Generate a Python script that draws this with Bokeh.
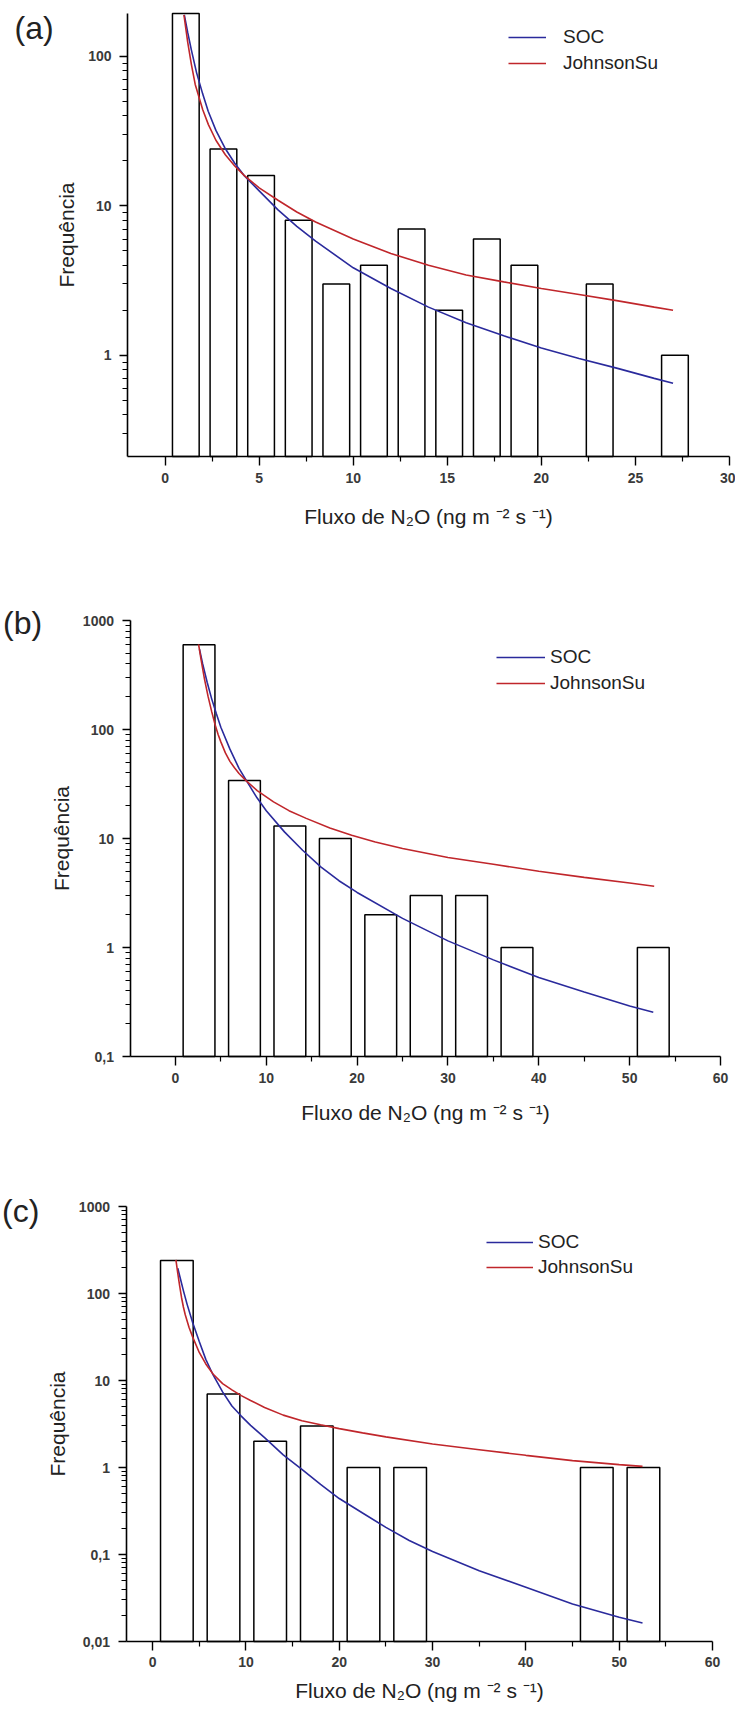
import math
from bokeh.plotting import figure
from bokeh.models import (FixedTicker, Label, Legend, LegendItem, Range1d,
                          CustomJSTickFormatter)
from bokeh.layouts import column
from bokeh.embed import file_html
from bokeh.resources import INLINE

FONT = "Liberation Sans"
BLUE = "#2a2a9c"
RED = "#c0262b"
TXT = "#222222"
FIG_W = 735
PAGE_LEFT = 8

# ---------------- panel (a) ----------------
a_bin_centers = [1.1, 3.1, 5.1, 7.1, 9.1, 11.1, 13.1, 15.1, 17.1, 19.1, 23.1, 27.1]
a_counts = [194, 24, 16, 8, 3, 4, 7, 2, 6, 4, 3, 1]
a_soc_x = [1.02, 1.2, 1.4, 1.67, 2.0, 2.29, 2.7, 3.17, 3.7, 4.23, 5.0, 6.0, 7.0, 8.0,
           10.0, 12.0, 14.0, 16.0, 18.0, 20.0, 22.0, 24.0, 26.0, 27.0]
a_soc_y = [190, 145, 110, 78, 56, 43, 32, 24.5, 19.3, 15.8, 12.6, 9.4, 7.3, 5.8,
           3.85, 2.8, 2.1, 1.65, 1.35, 1.12, 0.95, 0.82, 0.7, 0.65]
a_jsu_x = [1.0, 1.2, 1.4, 1.6, 2.0, 2.3, 2.7, 3.2, 3.7, 4.2, 5.0, 6.0, 7.0, 8.0,
           10.0, 12.0, 14.0, 16.0, 18.0, 20.0, 22.0, 24.0, 26.0, 27.0]
a_jsu_y = [190, 125, 88, 65, 44, 35, 27.5, 22, 18.5, 16.0, 13.2, 10.9, 9.1, 7.8,
           6.0, 4.8, 4.0, 3.45, 3.1, 2.8, 2.55, 2.32, 2.1, 2.0]
a_xticks = [0, 5, 10, 15, 20, 25, 30]
a_yticks = [1, 10, 100]

# ---------------- panel (b) ----------------
b_bin_centers = [2.6, 7.6, 12.6, 17.6, 22.6, 27.6, 32.6, 37.6, 52.6]
b_counts = [600, 34, 13, 10, 2, 3, 3, 1, 1]
b_soc_x = [2.65, 3.0, 3.5, 4.0, 4.5, 5.0, 6.0, 7.0, 8.0, 9.0, 10.0, 12.0, 14.0, 16.0,
           18.0, 20.0, 25.0, 30.0, 35.0, 40.0, 45.0, 50.0, 52.6]
b_soc_y = [545, 400, 270, 190, 140, 105, 66, 44, 32, 23.5, 18, 11.5, 7.8, 5.5,
           4.1, 3.2, 1.85, 1.15, 0.77, 0.53, 0.39, 0.29, 0.255]
b_jsu_x = [2.55, 2.8, 3.2, 3.6, 4.0, 4.35, 4.7, 5.0, 5.5, 6.0, 6.5, 7.0, 7.77, 9.0,
           10.8, 12.5, 14.4, 17.0, 19.4, 22.0, 25.0, 30.0, 35.0, 40.0, 45.0, 50.0, 52.7]
b_jsu_y = [604, 450, 290, 200, 145, 112, 90, 77, 61, 51, 44.5, 39.5, 34, 27.5,
           21.7, 18, 15.3, 12.5, 10.7, 9.3, 8.1, 6.7, 5.8, 5.0, 4.4, 3.9, 3.65]
b_xticks = [0, 10, 20, 30, 40, 50, 60]
b_yticks = [0.1, 1, 10, 100, 1000]

# ---------------- panel (c) ----------------
c_bin_centers = [2.6, 7.6, 12.6, 17.6, 22.6, 27.6, 47.6, 52.6]
c_counts = [240, 7, 2, 3, 1, 1, 1, 1]
c_soc_x = [2.7, 3.0, 3.3, 3.7, 4.3, 5.0, 5.7, 6.5, 7.5, 8.5, 9.5, 10.5, 12.0, 14.0,
           16.0, 18.0, 20.0, 22.5, 25.0, 27.5, 30.0, 35.0, 40.0, 45.0, 50.0, 52.5]
c_soc_y = [195, 145, 108, 75, 46, 28, 17.5, 11.5, 7.4, 5.1, 3.9, 3.05, 2.2, 1.4,
           0.95, 0.64, 0.44, 0.3, 0.205, 0.145, 0.108, 0.065, 0.042, 0.027, 0.019, 0.0163]
c_jsu_x = [2.5, 2.7, 2.9, 3.1, 3.3, 3.5, 3.9, 4.3, 5.0, 5.7, 6.5, 7.5, 8.5, 9.5, 10.5,
           12.0, 14.0, 16.0, 18.0, 20.0, 22.5, 25.0, 30.0, 35.0, 40.0, 45.0, 50.0, 52.5]
c_jsu_y = [243, 170, 122, 90, 70, 57, 41, 31.5, 21, 15.5, 11.8, 9.2, 7.8, 6.7, 5.9,
           4.9, 4.0, 3.45, 3.1, 2.8, 2.5, 2.25, 1.86, 1.6, 1.38, 1.2, 1.08, 1.03]
c_xticks = [0, 10, 20, 30, 40, 50, 60]
c_yticks = [0.01, 0.1, 1, 10, 100, 1000]

series_labels = ["SOC", "JohnsonSu"]
x_title = "Fluxo de N\u2082O (ng m \u207b\u00b2 s \u207b\u00b9)"
y_title = "Frequ\u00eancia"


def log_minor(ticks, lo, hi):
    cand = [t * m / 10.0 for t in ticks for m in range(2, 10)]
    cand += [ticks[-1] * m for m in range(2, 10)]
    return [v for v in cand if lo * 1.0001 <= v <= hi * 0.9999]


def mid_minor(ticks):
    return [(a + b) / 2.0 for a, b in zip(ticks[:-1], ticks[1:])]


def make_panel(letter, centers, counts, bar_width, soc_x, soc_y, jsu_x, jsu_y,
               axis_x, axis_y, frame_px, fig_top, height, xticks, yticks,
               letter_off, leg_loc, leg_glyph_w, leg_standoff, leg_spacing,
               xlab_standoff, xtitle_standoff):
    x0, x1 = axis_x
    y0, y1 = axis_y
    pl, pr, pt, pb = frame_px          # page pixels of the axis box
    kx = (pr - pl) / (x1 - x0)
    xs = x0 - (pl - PAGE_LEFT) / kx
    xe = x0 + (PAGE_LEFT + FIG_W - pl) / kx
    ky = (pb - pt) / (math.log10(y1) - math.log10(y0))
    ys = 10 ** (math.log10(y0) - (fig_top + height - pb) / ky)
    ye = 10 ** (math.log10(y1) + (pt - fig_top) / ky)

    p = figure(width=FIG_W, height=height, x_range=Range1d(xs, xe), y_range=Range1d(ys, ye),
               y_axis_type="log", output_backend="svg", toolbar_location=None,
               min_border_left=0, min_border_right=0, min_border_top=0,
               min_border_bottom=0)
    p.background_fill_color = "white"
    p.border_fill_color = "white"
    p.outline_line_color = None
    p.xgrid.visible = False
    p.ygrid.visible = False

    p.vbar(x=centers, top=counts, bottom=y0, width=bar_width,
           fill_color="white", line_color="black", line_width=1.5)
    r_soc = p.line(soc_x, soc_y, line_color=BLUE, line_width=1.6)
    r_jsu = p.line(jsu_x, jsu_y, line_color=RED, line_width=1.6)

    xa = p.xaxis[0]
    ya = p.yaxis[0]
    xa.fixed_location = y0
    ya.fixed_location = x0
    xa.bounds = (x0, x1)
    ya.bounds = (y0, y1)
    xa.ticker = FixedTicker(ticks=xticks, minor_ticks=mid_minor(xticks))
    ya.ticker = FixedTicker(ticks=yticks, minor_ticks=log_minor(yticks, y0, y1))
    ya.formatter = CustomJSTickFormatter(code="return String(tick).replace('.', ',');")
    for ax in (xa, ya):
        ax.axis_line_width = 1.6
        ax.axis_line_color = "black"
        ax.major_tick_line_width = 1.4
        ax.minor_tick_line_width = 1.2
        ax.major_tick_in = 0
        ax.minor_tick_in = 0
        ax.major_label_text_font = FONT
        ax.major_label_text_font_size = "14px"
        ax.major_label_text_font_style = "bold"
        ax.major_label_text_color = "#3a3a3a"
        ax.axis_label_text_font = FONT
        ax.axis_label_text_font_style = "normal"
        ax.axis_label_text_color = TXT
    xa.major_tick_out = 9
    xa.minor_tick_out = 5
    ya.major_tick_out = 8
    ya.minor_tick_out = 5
    xa.major_label_standoff = xlab_standoff
    ya.major_label_standoff = 8
    xa.axis_label = x_title
    ya.axis_label = y_title
    xa.axis_label_text_font_size = "21px"
    ya.axis_label_text_font_size = "21px"
    xa.axis_label_standoff = xtitle_standoff
    ya.axis_label_standoff = 7

    p.add_layout(Label(x=x0, y=y1, text=letter, x_offset=letter_off[0],
                       y_offset=letter_off[1], text_baseline="top",
                       text_font=FONT, text_font_size="32px", text_color=TXT))

    legend = Legend(items=[LegendItem(label=series_labels[0], renderers=[r_soc]),
                           LegendItem(label=series_labels[1], renderers=[r_jsu])],
                    location=leg_loc, padding=0, margin=0, spacing=leg_spacing,
                    glyph_width=leg_glyph_w, glyph_height=20, label_height=20,
                    label_standoff=leg_standoff, border_line_color=None,
                    background_fill_alpha=0, label_text_font=FONT,
                    label_text_font_size="19px", label_text_color=TXT)
    p.add_layout(legend)
    return p


pa = make_panel("(a)", a_bin_centers, a_counts, 1.42, a_soc_x, a_soc_y, a_jsu_x, a_jsu_y,
                (-2, 30), (0.21, 194), (135, 737, 21, 464), 8, 550,
                a_xticks, a_yticks, (-113, 4), (508, 476), 38, 17, 4, 7, 19)
pb = make_panel("(b)", b_bin_centers, b_counts, 3.5, b_soc_x, b_soc_y, b_jsu_x, b_jsu_y,
                (-5, 60), (0.1, 1000), (137.5, 728, 628, 1064), 558, 582,
                b_xticks, b_yticks, (-127, 16), (496, 438), 49, 5, 4, 7, 15)
pc = make_panel("(c)", c_bin_centers, c_counts, 3.5, c_soc_x, c_soc_y, c_jsu_x, c_jsu_y,
                (-2.85, 60), (0.01, 1000), (133.5, 720, 1214, 1649), 1140, 574,
                c_xticks, c_yticks, (-124, 14), (486, 428), 47, 5, 3, 6, 9)

layout = column(pa, pb, pc, spacing=0)
with open("out.html", "w", encoding="utf-8") as f:
    f.write(file_html(layout, INLINE))
